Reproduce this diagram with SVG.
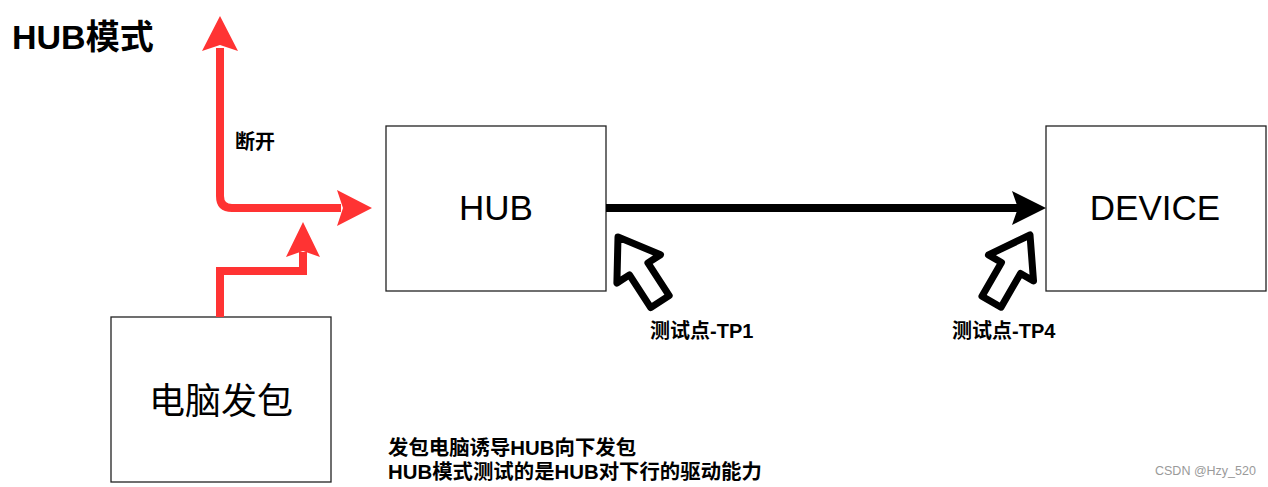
<svg xmlns="http://www.w3.org/2000/svg" width="1268" height="487" viewBox="0 0 1268 487">
<style>
text{font-family:"Liberation Sans","Noto Sans CJK SC",sans-serif;fill:#000}
.b{font-weight:bold}
.box{fill:#fff;stroke:#222;stroke-width:1.3}
.red{fill:none;stroke:#ff3333;stroke-width:8}
.redh{fill:#ff3333}
.hollow{fill:#fff;stroke:#000;stroke-width:7;stroke-linejoin:round}
</style>
<defs>
<path id="ha" d="M0,0 L26,38 L11,38 L11,77 L-11,77 L-11,38 L-26,38 Z"/>
</defs>
<rect width="1268" height="487" fill="#fff"/>
<text class="b" x="12" y="49" font-size="34">HUB模式</text>
<g id="hub"><rect class="box" x="386" y="126" width="220" height="165"/><text x="496" y="220" font-size="35" text-anchor="middle">HUB</text></g>
<g id="device"><rect class="box" x="1046" y="126" width="220" height="165"/><text x="1155" y="220" font-size="35" text-anchor="middle">DEVICE</text></g>
<g id="pc"><rect class="box" x="111" y="317" width="220" height="165"/><text x="221" y="414" font-size="36" text-anchor="middle">电脑发包</text></g>
<g id="connectors">
<path class="red" d="M341,208 L232,208 Q220,208 220,196 L220,48"/>
<polygon class="redh" points="220,16 238,51 220,45 202,51"/>
<polygon class="redh" points="372,208 337,226 343,208 337,190"/>
<path class="red" d="M220,317 L220,271 L303,271 L303,252" stroke-linejoin="miter"/>
<polygon class="redh" points="303,222 320,257 303,251 286,257"/>
<line x1="606" y1="208" x2="1020" y2="208" stroke="#000" stroke-width="8"/>
<polygon points="1046,208 1012,225 1018,208 1012,191" fill="#000"/>
</g>
<g id="tp1"><use href="#ha" class="hollow" transform="translate(618,237) rotate(-33)"/><text class="b" x="650" y="338" font-size="20">测试点-TP1</text></g>
<g id="tp4"><use href="#ha" class="hollow" transform="translate(1030,235) rotate(30)"/><text class="b" x="952" y="338" font-size="20">测试点-TP4</text></g>
<text class="b" x="235" y="149" font-size="20">断开</text>
<text class="b" x="388" y="455" font-size="20.4">发包电脑诱导HUB向下发包</text>
<text class="b" x="388" y="479" font-size="20.4">HUB模式测试的是HUB对下行的驱动能力</text>
<text x="1155" y="475" font-size="12.5" style="fill:#9a9a9a">CSDN @Hzy_520</text>
</svg>
